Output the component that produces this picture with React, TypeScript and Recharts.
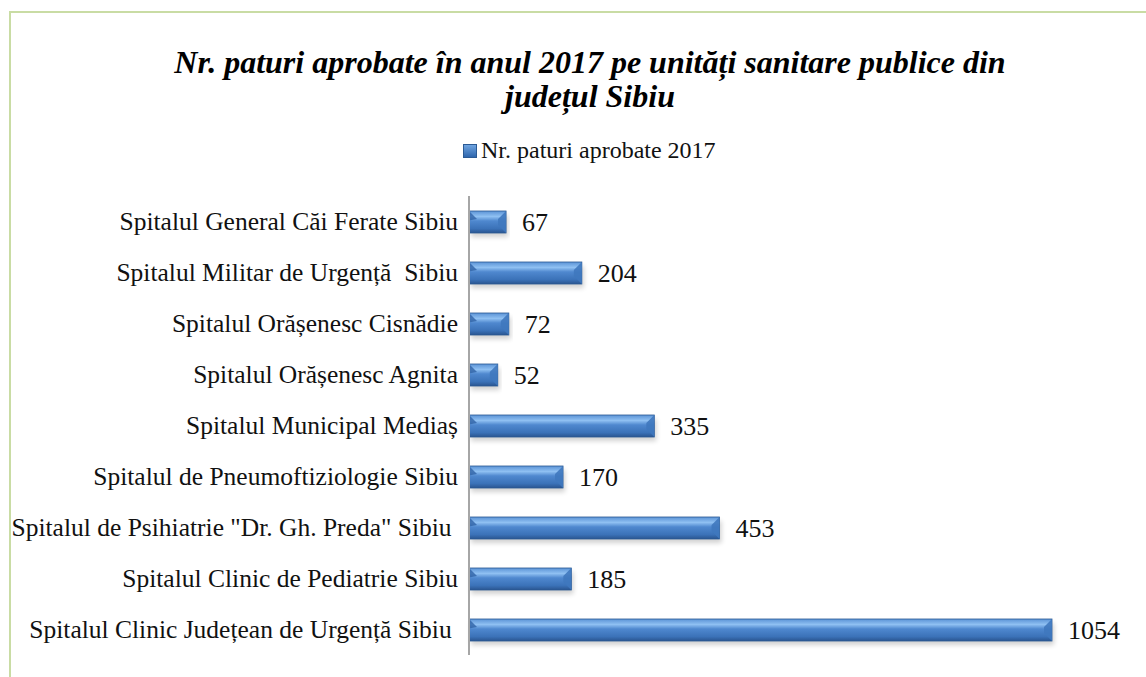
import React from 'react';
import {BarChart, Bar, XAxis, YAxis, LabelList} from 'recharts';

const categories = [
    'Spitalul General Căi Ferate Sibiu',
    'Spitalul Militar de Urgență  Sibiu',
    'Spitalul Orășenesc Cisnădie',
    'Spitalul Orășenesc Agnita',
    'Spitalul Municipal Mediaș',
    'Spitalul de Pneumoftiziologie Sibiu',
    'Spitalul de Psihiatrie "Dr. Gh. Preda" Sibiu ',
    'Spitalul Clinic de Pediatrie Sibiu',
    'Spitalul Clinic Județean de Urgență Sibiu ',
];
const paturi2017 = [67, 204, 72, 52, 335, 170, 453, 185, 1054];

const seriesName = 'Nr. paturi aprobate 2017';
const titleLines = [
    'Nr. paturi aprobate în anul 2017 pe unități sanitare publice din',
    'județul Sibiu',
];

const FONT = '"Liberation Serif", "Times New Roman", serif';

// bară cu gradient și teșitură la capăt
const BevelBar = (props: any) => {
    const {x, y, width, height} = props;
    if (!width || width <= 0) return null;
    const b = Math.min(8, width / 3);
    return (
        <g>
            <rect x={x + 2} y={y + 4} width={width} height={height} fill="#000" opacity={0.18} filter="url(#barShadow)"/>
            <rect x={x} y={y} width={width} height={height} fill="url(#barGrad)" stroke="#2b5a94" strokeWidth={0.8}/>
            <polygon points={`${x + width - b},${y + b} ${x + width},${y} ${x + width},${y + height} ${x + width - b},${y + height - b}`}
                     fill="#3f78be" opacity={0.9}/>
            <polygon points={`${x},${y} ${x + b},${y + b} ${x},${y + b * 1.2}`} fill="#2f63a6" opacity={0.8}/>
        </g>
    );
};

const CategoryTick = (props: any) => {
    const {x, y, payload} = props;
    return (
        <text x={x} y={y} dy={8} textAnchor="end" fill="#111" fontSize={25.5} fontFamily={FONT}
              style={{whiteSpace: 'pre'}}>
            {payload.value}
        </text>
    );
};

export default function App() {
    const data = categories.map((name, i) => ({name, value: paturi2017[i]}));

    return (
        <div style={{position: 'fixed', left: 0, top: 0, width: 1146, height: 677, background: '#fff', overflow: 'hidden'}}>
            <div style={{
                position: 'absolute', left: 9, top: 11, width: 1160, height: 700,
                border: '2px solid #c9dca4', boxSizing: 'border-box'
            }}/>
            <div style={{
                position: 'absolute', left: 0, top: 45, width: 1180, textAlign: 'center',
                fontFamily: FONT, fontWeight: 'bold', fontStyle: 'italic', fontSize: 32, lineHeight: '34px', color: '#000'
            }}>
                {titleLines.map(t => <div key={t}>{t}</div>)}
            </div>
            <div style={{
                position: 'absolute', left: 463, top: 137, display: 'flex', alignItems: 'center',
                fontFamily: FONT, fontSize: 24, color: '#111'
            }}>
                <span style={{
                    display: 'inline-block', width: 12, height: 12, marginRight: 4,
                    background: 'linear-gradient(#6fa4e0, #2f66ad)', border: '1px solid #2b5a94'
                }}/>
                {seriesName}
            </div>
            <BarChart
                width={1146}
                height={677}
                data={data}
                layout="vertical"
                margin={{top: 196, right: 94, left: 0, bottom: 22}}
                barSize={22}
                style={{position: 'absolute', left: 0, top: 0}}
            >
                <defs>
                    <linearGradient id="barGrad" x1="0" y1="0" x2="0" y2="1">
                        <stop offset="0%" stopColor="#5b93d6"/>
                        <stop offset="25%" stopColor="#8fc0f2"/>
                        <stop offset="45%" stopColor="#4f88cf"/>
                        <stop offset="80%" stopColor="#3b72b8"/>
                        <stop offset="100%" stopColor="#2a5590"/>
                    </linearGradient>
                    <filter id="barShadow" x="-5%" y="-50%" width="110%" height="200%">
                        <feGaussianBlur stdDeviation="2.5"/>
                    </filter>
                </defs>
                <XAxis type="number" domain={[0, 1054]} hide/>
                <YAxis
                    type="category"
                    dataKey="name"
                    width={469}
                    tickLine={false}
                    tickSize={0}
                    tickMargin={11}
                    axisLine={{stroke: '#a6a6a6', strokeWidth: 2}}
                    tick={<CategoryTick/>}
                    interval={0}
                />
                <Bar dataKey="value" name={seriesName} shape={<BevelBar/>} isAnimationActive={false}>
                    <LabelList dataKey="value" position="right" offset={16} fill="#111" fontSize={26} fontFamily={FONT}/>
                </Bar>
            </BarChart>
        </div>
    );
}
